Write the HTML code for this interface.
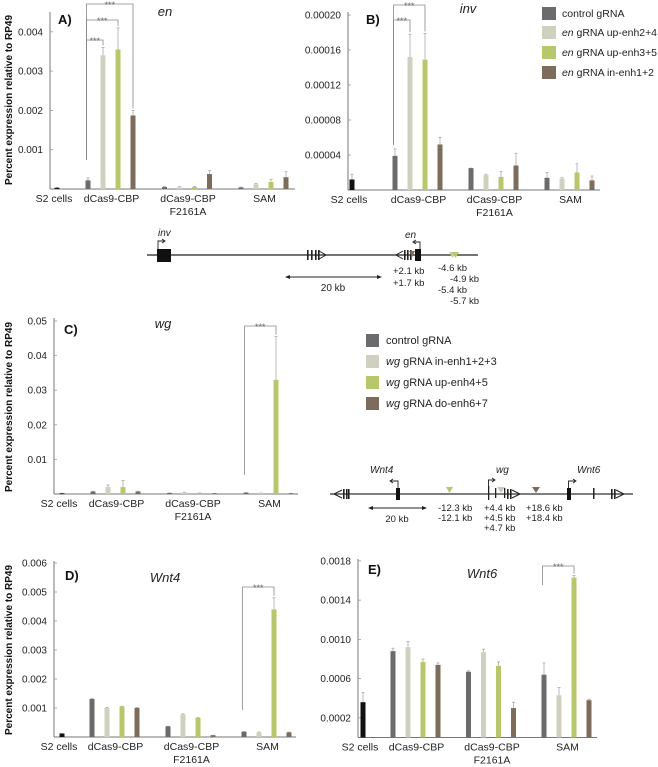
<!DOCTYPE html>
<html><head><meta charset="utf-8">
<style>
html,body{margin:0;padding:0;background:#fff;}
svg{display:block;font-family:"Liberation Sans",Arial,sans-serif;}
</style></head>
<body>
<svg id="fig" width="658" height="767" viewBox="0 0 658 767" xmlns="http://www.w3.org/2000/svg">
<g id="static">
  <text transform="translate(12,100) rotate(-90)" text-anchor="middle" font-size="10" font-weight="bold" fill="#111">Percent expression relative to RP49</text>
  <text transform="translate(12,407) rotate(-90)" text-anchor="middle" font-size="10" font-weight="bold" fill="#111">Percent expression relative to RP49</text>
  <text transform="translate(12,650) rotate(-90)" text-anchor="middle" font-size="10" font-weight="bold" fill="#111">Percent expression relative to RP49</text>

  <g font-size="10.5" fill="#222">
    <rect x="542" y="7" width="14" height="13" fill="#6b6a6c"/>
    <text x="562" y="17">control gRNA</text>
    <rect x="542" y="26" width="14" height="13" fill="#cfd0bd"/>
    <text x="562" y="36" textLength="95" lengthAdjust="spacingAndGlyphs"><tspan font-style="italic">en</tspan> gRNA up-enh2+4</text>
    <rect x="542" y="46" width="14" height="13" fill="#b6c86b"/>
    <text x="562" y="56" textLength="95" lengthAdjust="spacingAndGlyphs"><tspan font-style="italic">en</tspan> gRNA up-enh3+5</text>
    <rect x="542" y="66" width="14" height="13" fill="#7d6b5b"/>
    <text x="562" y="76" textLength="92" lengthAdjust="spacingAndGlyphs"><tspan font-style="italic">en</tspan> gRNA in-enh1+2</text>
  </g>

  <g font-size="11" fill="#222">
    <rect x="366" y="334" width="13" height="13" fill="#6b6a6c"/>
    <text x="386" y="344">control gRNA</text>
    <rect x="366" y="355" width="13" height="13" fill="#cfd0bd"/>
    <text x="386" y="365"><tspan font-style="italic">wg</tspan> gRNA in-enh1+2+3</text>
    <rect x="366" y="376" width="13" height="13" fill="#b6c86b"/>
    <text x="386" y="386"><tspan font-style="italic">wg</tspan> gRNA up-enh4+5</text>
    <rect x="366" y="397" width="13" height="13" fill="#7d6b5b"/>
    <text x="386" y="407"><tspan font-style="italic">wg</tspan> gRNA do-enh6+7</text>
  </g>

  <g fill="#222" font-size="9.5">
    <line x1="147" y1="255" x2="478" y2="255" stroke="#222" stroke-width="1.2"/>
    <rect x="157" y="249" width="14" height="13" fill="#111"/>
    <path d="M158 249 V241 H164" fill="none" stroke="#222" stroke-width="0.9"/>
    <path d="M162 239 L165 241 L162 243" fill="none" stroke="#222" stroke-width="0.9"/>
    <text x="158" y="236" font-style="italic" font-size="10">inv</text>
    <rect x="307" y="250" width="1.6" height="10"/><rect x="311" y="250" width="1.6" height="10"/><rect x="315" y="250" width="1.6" height="10"/><rect x="318" y="250" width="1.6" height="10"/>
    <path d="M319 251 L326 255 L319 259" fill="none" stroke="#222" stroke-width="1"/>
    <path d="M403 251 L396 255 L403 259" fill="none" stroke="#222" stroke-width="1"/>
    <rect x="404" y="250" width="1.6" height="10"/><rect x="407" y="250" width="1.6" height="10"/><rect x="410" y="250" width="1.6" height="10"/>
    <rect x="415" y="249" width="6" height="12" fill="#111"/>
    <path d="M409 251 L415 251 L412 257 Z" fill="#7d6b5b"/>
    <path d="M420 249 V242 H414" fill="none" stroke="#222" stroke-width="0.9"/>
    <path d="M416 240 L413 242 L416 244" fill="none" stroke="#222" stroke-width="0.9"/>
    <text x="405" y="238" font-style="italic" font-size="10">en</text>
    <path d="M449 252 L456 252 L452.5 258 Z" fill="#c7d490"/>
    <path d="M452 252 L459 252 L455.5 258 Z" fill="#b6c86b"/>
    <line x1="287" y1="277" x2="380" y2="277" stroke="#222" stroke-width="1"/>
    <path d="M285 277 L290 275 L290 279 Z"/><path d="M382 277 L377 275 L377 279 Z"/>
    <text x="333" y="291" text-anchor="middle" font-size="10">20 kb</text>
    <text x="393" y="274">+2.1 kb</text>
    <text x="393" y="286">+1.7 kb</text>
    <text x="438" y="271">-4.6 kb</text>
    <text x="450" y="282">-4.9 kb</text>
    <text x="438" y="293">-5.4 kb</text>
    <text x="450" y="304">-5.7 kb</text>
  </g>

  <g fill="#222" font-size="9.5">
    <line x1="330" y1="494" x2="633" y2="494" stroke="#333" stroke-width="1.2"/>
    <path d="M342 490 L334 494 L342 498" fill="none" stroke="#222" stroke-width="1"/>
    <rect x="343" y="489" width="1.6" height="10"/><rect x="346" y="489" width="1.6" height="10"/><rect x="348" y="489" width="1.6" height="10"/>
    <rect x="396" y="488" width="4" height="12" fill="#111"/>
    <path d="M398 488 V481 H391" fill="none" stroke="#222" stroke-width="0.9"/>
    <path d="M393 479 L390 481 L393 483" fill="none" stroke="#222" stroke-width="0.9"/>
    <text x="370" y="473" font-style="italic" font-size="10">Wnt4</text>
    <path d="M446 487 L453 487 L449.5 493 Z" fill="#b6c86b"/>
    <rect x="488" y="486" width="1.3" height="14"/>
    <path d="M488.5 486 V480 H494" fill="none" stroke="#222" stroke-width="0.9"/>
    <path d="M492 478 L495 480 L492 482" fill="none" stroke="#222" stroke-width="0.9"/>
    <text x="496" y="473" font-style="italic" font-size="10">wg</text>
    <rect x="495" y="488" width="1.3" height="10"/>
    <path d="M497 487 L505 487 L501 493 Z" fill="#c8c9b6"/>
    <rect x="504" y="488" width="1.3" height="10"/><rect x="507" y="489" width="1.6" height="10"/><rect x="510" y="489" width="1.6" height="10"/>
    <path d="M512 490 L520 494 L512 498" fill="none" stroke="#222" stroke-width="1"/>
    <path d="M532 487 L540 487 L536 493 Z" fill="#7d6b5b"/>
    <rect x="567" y="488" width="4" height="12" fill="#111"/>
    <path d="M568.5 488 V481 H575" fill="none" stroke="#222" stroke-width="0.9"/>
    <path d="M573 479 L576 481 L573 483" fill="none" stroke="#222" stroke-width="0.9"/>
    <text x="577" y="473" font-style="italic" font-size="10">Wnt6</text>
    <rect x="593" y="488" width="1.5" height="11"/>
    <rect x="611" y="489" width="1.6" height="10"/><rect x="614" y="489" width="1.6" height="10"/>
    <path d="M616 490 L624 494 L616 498" fill="none" stroke="#222" stroke-width="1"/>
    <line x1="370" y1="508" x2="425" y2="508" stroke="#222" stroke-width="1"/>
    <path d="M368 508 L373 506 L373 510 Z"/><path d="M427 508 L422 506 L422 510 Z"/>
    <text x="397" y="522" text-anchor="middle">20 kb</text>
    <text x="438" y="511">-12.3 kb</text>
    <text x="438" y="521">-12.1 kb</text>
    <text x="484" y="511">+4.4 kb</text>
    <text x="484" y="521">+4.5 kb</text>
    <text x="484" y="531">+4.7 kb</text>
    <text x="526" y="511">+18.6 kb</text>
    <text x="526" y="521">+18.4 kb</text>
  </g>
</g>
<g id="charts"></g>
</svg>
<script>
const enS2 = [0.00003];
const enS2Err = [0.00004];
const enCtrl = [0.00022, 0.00005, 0.00004];
const enCtrlErr = [0.00028, 0.00006, 0.00005];
const enUp24 = [0.0034, 0.00004, 0.00012];
const enUp24Err = [0.0036, 0.00006, 0.00014];
const enUp35 = [0.00355, 0.00005, 0.00018];
const enUp35Err = [0.0041, 0.00006, 0.00025];
const enIn12 = [0.00187, 0.00038, 0.0003];
const enIn12Err = [0.002, 0.00047, 0.00044];
const enTicks = [0.001, 0.002, 0.003, 0.004];
const enTickLabels = ["0.001", "0.002", "0.003", "0.004"];

const invS2 = [0.000012];
const invS2Err = [0.000018];
const invCtrl = [0.000039, 0.000025, 0.000014];
const invCtrlErr = [0.000047, 0.000025, 0.00002];
const invUp24 = [0.000152, 0.000017, 0.000013];
const invUp24Err = [0.000178, 0.000018, 0.000014];
const invUp35 = [0.000149, 0.000015, 0.00002];
const invUp35Err = [0.000179, 0.000021, 0.00003];
const invIn12 = [0.000052, 0.000028, 0.000011];
const invIn12Err = [0.00006, 0.000042, 0.000016];
const invTicks = [0.00004, 0.00008, 0.00012, 0.00016, 0.0002];
const invTickLabels = ["0.00004", "0.00008", "0.00012", "0.00016", "0.00020"];

const wgS2 = [0.0002];
const wgS2Err = [0.0002];
const wgCtrl = [0.0007, 0.0003, 0.0004];
const wgCtrlErr = [0.0008, 0.0003, 0.0004];
const wgIn123 = [0.002, 0.0004, 0.0003];
const wgIn123Err = [0.0026, 0.0005, 0.0003];
const wgUp45 = [0.002, 0.0003, 0.033];
const wgUp45Err = [0.0039, 0.0003, 0.0455];
const wgDo67 = [0.0007, 0.0002, 0.0002];
const wgDo67Err = [0.0008, 0.0002, 0.0002];
const wgTicks = [0.01, 0.02, 0.03, 0.04, 0.05];
const wgTickLabels = ["0.01", "0.02", "0.03", "0.04", "0.05"];

const w4S2 = [0.00012];
const w4S2Err = [0.00012];
const w4Ctrl = [0.00131, 0.00037, 0.00018];
const w4CtrlErr = [0.00133, 0.00037, 0.00019];
const w4In123 = [0.001, 0.00078, 0.00016];
const w4In123Err = [0.00102, 0.0008, 0.00017];
const w4Up45 = [0.00105, 0.00066, 0.0044];
const w4Up45Err = [0.00106, 0.00067, 0.0048];
const w4Do67 = [0.001, 0.00006, 0.00016];
const w4Do67Err = [0.00102, 0.00006, 0.00017];
const w4Ticks = [0.001, 0.002, 0.003, 0.004, 0.005, 0.006];
const w4TickLabels = ["0.001", "0.002", "0.003", "0.004", "0.005", "0.006"];

const w6S2 = [0.00036];
const w6S2Err = [0.00046];
const w6Ctrl = [0.00088, 0.00067, 0.00064];
const w6CtrlErr = [0.00091, 0.00068, 0.00076];
const w6In123 = [0.00092, 0.00087, 0.00043];
const w6In123Err = [0.00098, 0.0009, 0.00051];
const w6Up45 = [0.00077, 0.00073, 0.00163];
const w6Up45Err = [0.0008, 0.00077, 0.00165];
const w6Do67 = [0.00074, 0.0003, 0.00038];
const w6Do67Err = [0.00076, 0.00036, 0.00039];
const w6Ticks = [0.0002, 0.0006, 0.001, 0.0014, 0.0018];
const w6TickLabels = ["0.0002", "0.0006", "0.0010", "0.0014", "0.0018"];

const categories = ["S2 cells", "dCas9-CBP", "dCas9-CBP", "SAM"];
const COLORS = ["#6b6a6c", "#cfd0bd", "#b6c86b", "#7d6b5b"];
const NS = "http://www.w3.org/2000/svg";
const root = document.getElementById("charts");

function mk(tag, attrs, parent) {
  const e = document.createElementNS(NS, tag);
  for (const k in attrs) e.setAttribute(k, attrs[k]);
  (parent || root).appendChild(e);
  return e;
}

function panel(cfg) {
  const g = mk("g", {});
  
  
  const y = v => cfg.y0 - (v / cfg.unit) * cfg.unitPx;
  const gx = i => cfg.g1 + i * cfg.gs;
  const bx = (i, j) => gx(i) + (j - 1.5) * 15;
  const ax = mk("line", {x1: cfg.ax, y1: cfg.top, x2: cfg.ax, y2: cfg.y0, stroke: "#777", "stroke-width": 1}, g);
  
  
  const xa = mk("line", {x1: cfg.ax, y1: cfg.y0, x2: cfg.right, y2: cfg.y0, stroke: "#777", "stroke-width": 1}, g);
  
  
  cfg.ticks.forEach((t, k) => {
    const tl = mk("line", {x1: cfg.ax, y1: y(t), x2: cfg.ax + 3, y2: y(t), stroke: "#999", "stroke-width": 0.8}, g);
    
    
    const tx = mk("text", {x: cfg.ax - 7, y: y(t) + 3.5, "text-anchor": "end", "font-size": 10, fill: "#222"}, g);
    
    
    tx.textContent = cfg.tickLabels[k];
  });
  function bar(cx, v, e, color) {
    const ey = y(e);
    const el = mk("line", {x1: cx, y1: ey, x2: cx, y2: y(v), stroke: "#aaa", "stroke-width": 0.8}, g);
    
    
    const cap = mk("line", {x1: cx - 1.5, y1: ey, x2: cx + 1.5, y2: ey, stroke: "#aaa", "stroke-width": 0.8}, g);
    
    
    const r = mk("rect", {x: cx - 2.5, y: y(v), width: 5, height: Math.max(0.8, cfg.y0 - y(v)), fill: color}, g);
    
    
  }
  bar(cfg.s2x, cfg.s2[0], cfg.s2e[0], "#111");
  cfg.series.forEach((s, j) => {
    s.forEach((v, i) => bar(bx(i, j), v, cfg.errs[j][i], COLORS[j]));
  });
  const cl = mk("text", {x: cfg.s2x - 3, y: cfg.y0 + 13, "text-anchor": "middle", "font-size": 10.5, fill: "#222"}, g);
  
  
  cl.textContent = categories[0];
  for (let i = 0; i < 3; i++) {
    const t = mk("text", {x: gx(i) + 1, y: cfg.y0 + 13, "text-anchor": "middle", "font-size": 10.5, fill: "#222"}, g);
    
    
    t.textContent = categories[i + 1];
  }
  const f = mk("text", {x: gx(1) + 1, y: cfg.y0 + 26, "text-anchor": "middle", "font-size": 10.5, fill: "#222"}, g);
  
  
  f.textContent = "F2161A";
  const pl = mk("text", {x: cfg.letter[0], y: cfg.letter[1], "font-size": 13, "font-weight": "bold", fill: "#111"}, g);
  
  
  pl.textContent = cfg.letterText;
  const gt = mk("text", {x: cfg.title[0], y: cfg.title[1], "text-anchor": "middle", "font-size": 13, "font-style": "italic", fill: "#222"}, g);
  
  
  gt.textContent = cfg.titleText;
  cfg.sig.forEach(s => {
    const x1 = bx(s[0], s[1]) - 1.5, x2 = bx(s[0], s[2]);
    const top = s[3];
    const x2bot = y(cfg.errs[s[2]][s[0]]) - 2;
    const p = mk("path", {d: `M${x1} ${s[4]} V${top} H${x2} V${x2bot}`, fill: "none", stroke: "#888", "stroke-width": 0.8}, g);
    
    
    const st = mk("text", {x: (x1 + x2) / 2, y: top + 4, "text-anchor": "middle", "font-size": 9, fill: "#666"}, g);
    
    
    st.textContent = "***";
  });
}

panel({name: "chart-en", ax: 50, right: 295, top: 12, y0: 189, unit: 0.001, unitPx: 39.3,
  s2x: 57, g1: 110.5, gs: 76.5, s2: enS2, s2e: enS2Err,
  series: [enCtrl, enUp24, enUp35, enIn12], errs: [enCtrlErr, enUp24Err, enUp35Err, enIn12Err],
  ticks: enTicks, tickLabels: enTickLabels, letter: [58, 24], letterText: "A)", title: [165, 16], titleText: "en",
  sig: [[0, 0, 1, 40, 160], [0, 0, 2, 20, 160], [0, 0, 3, 4, 160]]});

panel({name: "chart-inv", ax: 348, right: 600, top: 12, y0: 190, unit: 0.00004, unitPx: 35,
  s2x: 352, g1: 417.5, gs: 76, s2: invS2, s2e: invS2Err,
  series: [invCtrl, invUp24, invUp35, invIn12], errs: [invCtrlErr, invUp24Err, invUp35Err, invIn12Err],
  ticks: invTicks, tickLabels: invTickLabels, letter: [366, 24], letterText: "B)", title: [468, 13], titleText: "inv",
  sig: [[0, 0, 1, 20, 145], [0, 0, 2, 5, 145]]});

panel({name: "chart-wg", ax: 54, right: 298, top: 318, y0: 494, unit: 0.01, unitPx: 34.6,
  s2x: 62, g1: 115.5, gs: 76.5, s2: wgS2, s2e: wgS2Err,
  series: [wgCtrl, wgIn123, wgUp45, wgDo67], errs: [wgCtrlErr, wgIn123Err, wgUp45Err, wgDo67Err],
  ticks: wgTicks, tickLabels: wgTickLabels, letter: [64, 334], letterText: "C)", title: [163, 328], titleText: "wg",
  sig: [[2, 0, 2, 326, 475]]});

panel({name: "chart-wnt4", ax: 54, right: 296, top: 561, y0: 737, unit: 0.001, unitPx: 29,
  s2x: 62, g1: 114.5, gs: 76, s2: w4S2, s2e: w4S2Err,
  series: [w4Ctrl, w4In123, w4Up45, w4Do67], errs: [w4CtrlErr, w4In123Err, w4Up45Err, w4Do67Err],
  ticks: w4Ticks, tickLabels: w4TickLabels, letter: [65, 580], letterText: "D)", title: [165, 582], titleText: "Wnt4",
  sig: [[2, 0, 2, 587, 710]]});

panel({name: "chart-wnt6", ax: 358, right: 597, top: 559, y0: 737.5, unit: 0.0004, unitPx: 39.25,
  s2x: 363, g1: 415.5, gs: 75.5, s2: w6S2, s2e: w6S2Err,
  series: [w6Ctrl, w6In123, w6Up45, w6Do67], errs: [w6CtrlErr, w6In123Err, w6Up45Err, w6Do67Err],
  ticks: w6Ticks, tickLabels: w6TickLabels, letter: [368, 574], letterText: "E)", title: [482, 578], titleText: "Wnt6",
  sig: [[2, 0, 2, 566, 585]]});
</script>
</body></html>
